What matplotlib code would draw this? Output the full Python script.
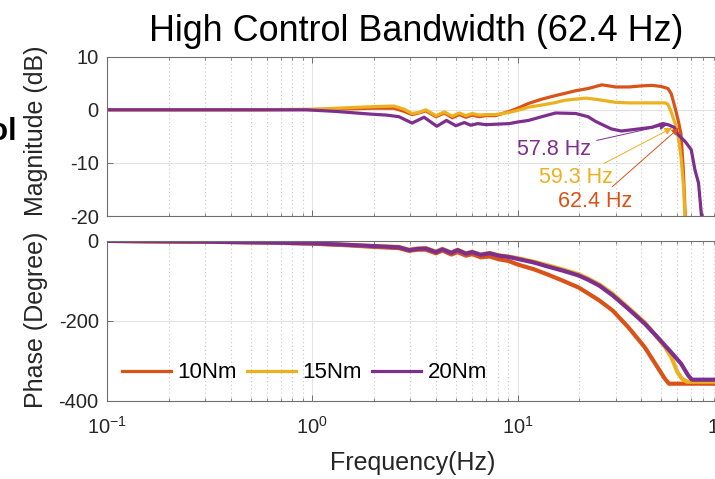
import matplotlib
matplotlib.use("Agg")
import matplotlib.pyplot as plt
from matplotlib.ticker import LogLocator, NullFormatter, FixedLocator

plt.rcParams['font.family'] = ['Liberation Sans', 'DejaVu Sans']
plt.rcParams['mathtext.fontset'] = 'custom'
plt.rcParams['mathtext.rm'] = 'Liberation Sans'
plt.rcParams['mathtext.it'] = 'Liberation Sans'
plt.rcParams['mathtext.default'] = 'regular'
plt.rcParams['axes.unicode_minus'] = False

# ---------------- data ----------------
series_labels = ['10Nm', '15Nm', '20Nm']
series_colors = ['#D95319', '#EDB120', '#7E2F8E']

mag_f_10 = [0.1, 0.5, 1.0, 1.5, 2.0, 2.5, 2.8, 3.06, 3.3, 3.57, 4.0, 4.4, 4.8, 5.2, 5.6, 6.0, 6.5, 7.0, 7.8, 9.1,
            10, 11.3, 13.1, 15, 17, 19.2, 22, 25.7, 27.8, 30, 35, 40, 45, 50, 54, 56, 58.5, 60.5, 62.4, 64, 65.5, 67]
mag_10 = [0, 0, 0.05, 0.2, 0.3, 0.3, -0.3, -0.9, -0.6, -0.2, -1.3, -0.6, -1.5, -0.9, -1.4, -1.0, -1.3, -1.1, -1.1, -0.3,
          0.3, 1.2, 2.0, 2.6, 3.1, 3.6, 4.0, 4.7, 4.5, 4.3, 4.3, 4.5, 4.6, 4.4, 4.0, 3.0, 0.3, -2.0, -4.5, -11, -20, -30]

mag_f_15 = [0.1, 0.5, 1.0, 1.5, 2.0, 2.5, 2.8, 3.06, 3.3, 3.57, 4.0, 4.4, 4.8, 5.2, 5.6, 6.0, 6.5, 7.0, 7.8, 9.1,
            10, 11.3, 13.1, 15, 17, 21.5, 24.8, 30, 35, 45, 52.5, 54, 55.8, 57.5, 59.3, 61, 62.5, 64.4, 65.5, 67]
mag_15 = [0, 0, 0.1, 0.4, 0.6, 0.7, 0.1, -0.7, -0.5, 0.0, -1.1, -0.4, -1.2, -0.6, -1.1, -0.7, -1.0, -0.9, -0.9, -0.5,
          -0.1, 0.5, 0.9, 1.3, 1.8, 2.2, 1.9, 1.4, 1.3, 1.3, 1.3, 1.0, -0.3, -1.8, -3.2, -6, -9, -15, -22, -30]

mag_f_20 = [0.1, 0.5, 0.93, 1.3, 1.9, 2.3, 2.64, 3.06, 3.5, 4.04, 4.5, 5.0, 5.5, 5.9, 6.4, 7.0, 8.0, 9.1, 10, 11.3,
            13.1, 15.3, 19.2, 22, 24, 28.6, 32, 38.9, 45, 51, 54, 57.8, 60.5, 65.5, 70, 73, 76, 78.6, 81]
mag_20 = [0, 0, 0, -0.3, -0.8, -1.0, -1.3, -2.5, -1.4, -3.1, -2.0, -3.0, -2.4, -2.9, -2.6, -2.8, -2.7, -2.6, -2.3, -2.0,
          -1.3, -0.6, -0.7, -1.3, -2.2, -3.6, -4.0, -3.6, -3.3, -2.6, -2.8, -3.3, -4.7, -6.0, -7.5, -11.3, -13.8, -20, -28]

ph_f_10 = [0.1, 0.3, 0.6, 1.0, 1.5, 2.0, 2.64, 2.96, 3.24, 3.57, 4.0, 4.3, 4.75, 5.1, 5.6, 6.0, 6.6, 7.3, 8.1, 9.0,
           10, 12, 14, 16.5, 19.7, 22, 25, 29, 34.6, 41.6, 48, 52, 54.6, 100]
ph_10 = [-1, -3, -5, -8, -12, -16, -19, -26, -23, -23, -32, -25, -35, -29, -38, -34, -42, -40, -47, -51,
         -60, -72, -85, -100, -117, -132, -150, -175, -217, -267, -317, -345, -358, -358]

ph_f_15 = [0.1, 0.3, 0.6, 1.0, 1.5, 2.0, 2.64, 2.96, 3.24, 3.57, 4.0, 4.3, 4.75, 5.1, 5.6, 6.0, 6.6, 7.3, 8.1, 9.0,
           10, 12, 14, 16.5, 19.7, 22, 25, 29, 34.6, 41.6, 48, 52, 55.8, 60, 63, 66.7, 100]
ph_15 = [-1, -3, -5, -7, -11, -14, -16, -23, -20, -19, -28, -21, -30, -23, -32, -28, -35, -31, -37, -40,
         -44, -53, -62, -72, -84, -95, -110, -133, -168, -205, -243, -265, -290, -329, -345, -353, -353]

ph_f_20 = [0.1, 0.3, 0.6, 1.0, 1.5, 2.0, 2.64, 2.96, 3.24, 3.57, 4.0, 4.3, 4.75, 5.1, 5.6, 6.0, 6.6, 7.3, 8.1, 9.0,
           10, 12, 14, 16.5, 19.7, 22, 25, 29, 34.6, 41.6, 48, 55.8, 62.5, 67.6, 70.6, 100]
ph_20 = [-1, -3, -5, -7, -11, -14, -17, -24, -21, -20, -29, -22, -31, -24, -33, -29, -36, -32, -38, -41,
         -46, -55, -65, -75, -87, -98, -113, -137, -171, -208, -242, -279, -308, -337, -348, -348]

bw_labels = ['57.8 Hz', '59.3 Hz', '62.4 Hz']
bw_colors = ['#7E2F8E', '#EDB120', '#D95319']
bw_tips = [(53.4, -2.8), (56.5, -3.4), (61.1, -3.4)]
bw_text = [(15.05, -7.57), (19.27, -12.84), (23.8, -17.36)]

title = 'High Control Bandwidth (62.4 Hz)'
mag_yticks = [-20, -10, 0, 10]
ph_yticks = [-400, -200, 0]

# ---------------- figure ----------------
W, H = 715, 479
fig = plt.figure(figsize=(W / 100, H / 100), dpi=100)

def fx(px):
    return px / W

def fy(py):
    return 1 - py / H

left, right = 107, 723
ax1 = fig.add_axes([fx(left), fy(216), fx(right - left), (216 - 56.7) / H])
ax2 = fig.add_axes([fx(left), fy(400.5), fx(right - left), (400.5 - 240.5) / H])

spine_c = '#6e6e6e'
for ax in (ax1, ax2):
    ax.set_xscale('log')
    ax.set_xlim(0.1, 100)
    ax.xaxis.set_major_locator(LogLocator(base=10, numticks=10))
    ax.xaxis.set_minor_locator(LogLocator(base=10, subs=range(2, 10), numticks=50))
    ax.xaxis.set_minor_formatter(NullFormatter())
    ax.grid(True, which='major', color='#e3e3e3', lw=0.8, ls='-')
    ax.grid(True, which='minor', axis='x', color='#c8c8c8', lw=0.8, ls=(0, (1, 2.5)))
    ax.set_axisbelow(True)
    for s in ax.spines.values():
        s.set_color(spine_c)
        s.set_linewidth(0.8)
    ax.tick_params(which='both', direction='in', top=True, right=True, colors=spine_c,
                   labelcolor='#262626', labelsize=14.5)
    ax.tick_params(which='major', length=4.5, width=0.7, pad=6)
    ax.tick_params(which='minor', length=2.5, width=0.6)
    ax.tick_params(axis='x', which='major', pad=11)

mag_sets = [(mag_f_10, mag_10), (mag_f_15, mag_15), (mag_f_20, mag_20)]
ph_sets = [(ph_f_10, ph_10), (ph_f_15, ph_15), (ph_f_20, ph_20)]
for (f, m), (pf, p), c, lab in zip(mag_sets, ph_sets, series_colors, series_labels):
    ax1.plot(f, m, color=c, lw=2.3, solid_joinstyle='round')
    ax2.plot(pf, p, color=c, lw=3.0, solid_joinstyle='round', label=lab)

ax1.set_ylim(-20, 10)
ax1.yaxis.set_major_locator(FixedLocator(mag_yticks))
ax1.tick_params(axis='x', labelbottom=False)
ax2.set_ylim(-400, 0)
ax2.yaxis.set_major_locator(FixedLocator(ph_yticks))

for lab, c, tip, tx in zip(bw_labels, bw_colors, bw_tips, bw_text):
    ax1.annotate(lab, xy=tip, xytext=tx, textcoords='data', color=c, fontsize=15.5,
                 ha='center', va='center',
                 arrowprops=dict(arrowstyle='-|>', color=c, lw=0.7, mutation_scale=11,
                                 shrinkA=2, shrinkB=0))

leg = ax2.legend(loc='center left', bbox_to_anchor=((122 - left) / (right - left), (400.5 - 373) / 160),
                 ncol=3, frameon=False, fontsize=16, handlelength=2.2, handletextpad=0.3,
                 columnspacing=0.45, borderpad=0, borderaxespad=0)
for h in leg.legend_handles:
    h.set_linewidth(2.3)

# labels
fig.text(fx(416), fy(41), title, ha='center', va='baseline', fontsize=25.8, color='black')
fig.text(fx(43), fy(131), 'Magnitude (dB)', rotation=90, rotation_mode='anchor',
         ha='center', va='baseline', fontsize=18, color='#262626')
fig.text(fx(43), fy(320), 'Phase (Degree)', rotation=90, rotation_mode='anchor',
         ha='center', va='baseline', fontsize=18, color='#262626')
fig.text(fx(413), fy(470), 'Frequency(Hz)', ha='center', va='baseline', fontsize=18, color='#262626')
fig.text(fx(17), fy(140), 'Control', ha='right', va='baseline', fontsize=22, fontweight='bold', color='black')

fig.savefig('out.png', dpi=100)
